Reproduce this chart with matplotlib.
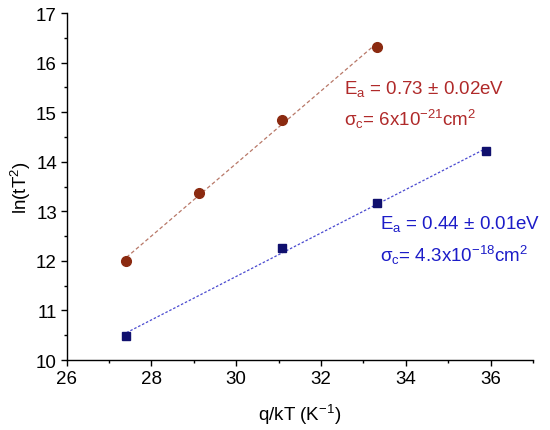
import numpy as np
import matplotlib
matplotlib.use("Agg")
import matplotlib.pyplot as plt
from matplotlib.ticker import MultipleLocator

plt.rcParams['font.family'] = ['Liberation Sans', 'DejaVu Sans']
plt.rcParams['mathtext.fontset'] = 'custom'
plt.rcParams['mathtext.rm'] = 'Liberation Sans'
plt.rcParams['mathtext.it'] = 'Liberation Sans:italic'
plt.rcParams['mathtext.bf'] = 'Liberation Sans:bold'

# Data
red_x = [27.41, 29.12, 31.08, 33.32]
red_y = [12.00, 13.37, 14.85, 16.32]
blue_x = [27.41, 31.08, 33.31, 35.90]
blue_y = [10.49, 12.25, 13.17, 14.21]

x_ticks = [26, 28, 30, 32, 34, 36]
y_ticks = [10, 11, 12, 13, 14, 15, 16, 17]

red_c = '#8b2a10'
red_line = '#b87868'
red_text = '#b02a2a'
blue_c = '#10106e'
blue_line = '#4a4ad0'
blue_text = '#1c1cc8'

fig = plt.figure(figsize=(5.5, 4.31), dpi=100)
ax = fig.add_axes([0.1213, 0.1624, 0.8477, 0.8051])

# fit lines
for xs, ys, lc, ls in [(red_x, red_y, red_line, (0, (3, 2))), (blue_x, blue_y, blue_line, (0, (2, 1.5)))]:
    p = np.polyfit(xs, ys, 1)
    xf = np.array([min(xs), max(xs)])
    ax.plot(xf, np.polyval(p, xf), color=lc, lw=0.9, linestyle=ls, zorder=2)

ax.plot(red_x, red_y, 'o', color=red_c, ms=7, zorder=3)
ax.plot(blue_x, blue_y, 's', color=blue_c, ms=5.8, zorder=3)

ax.set_xlim(26, 37)
ax.set_ylim(10, 17)
ax.set_xticks(x_ticks)
ax.set_yticks(y_ticks)
ax.xaxis.set_minor_locator(MultipleLocator(1))
ax.yaxis.set_minor_locator(MultipleLocator(0.5))
ax.tick_params(which='major', direction='out', length=4, width=1, labelsize=13.5, pad=3)
ax.tick_params(which='minor', direction='out', length=2.5, width=1)
for s in ['top', 'right']:
    ax.spines[s].set_visible(False)
for s in ['left', 'bottom']:
    ax.spines[s].set_linewidth(1)

ax.set_xlabel('q/kT (K$^{\\mathregular{-1}}$)', fontsize=13.5, labelpad=11)
ax.set_ylabel('ln(tT$^{\\mathregular{2}}$)', fontsize=13.5, labelpad=2)

ax.text(344/550, 1 - 94/431, 'E$_{\\mathregular{a}}$ = 0.73 ± 0.02eV', transform=fig.transFigure,
        color=red_text, fontsize=13.5, va='baseline', ha='left')
ax.text(344/550, 1 - 126/431, 'σ$_{\\mathregular{c}}$= 6x10$^{\\mathregular{-21}}$cm$^{\\mathregular{2}}$', transform=fig.transFigure,
        color=red_text, fontsize=13.5, va='baseline', ha='left')
ax.text(380/550, 1 - 229/431, 'E$_{\\mathregular{a}}$ = 0.44 ± 0.01eV', transform=fig.transFigure,
        color=blue_text, fontsize=13.5, va='baseline', ha='left')
ax.text(380/550, 1 - 262/431, 'σ$_{\\mathregular{c}}$= 4.3x10$^{\\mathregular{-18}}$cm$^{\\mathregular{2}}$', transform=fig.transFigure,
        color=blue_text, fontsize=13.5, va='baseline', ha='left')

fig.savefig('out.png', dpi=100)
